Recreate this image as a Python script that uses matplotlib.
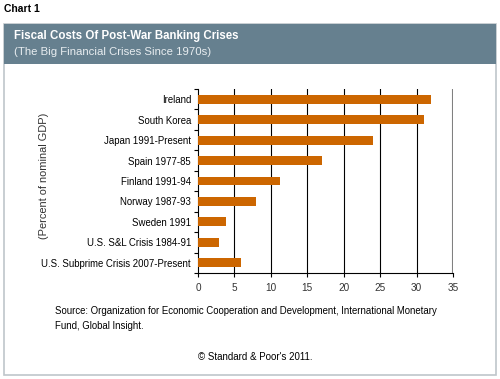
import numpy as np
import matplotlib
matplotlib.use("Agg")
import matplotlib.pyplot as plt
from matplotlib.patches import Rectangle

plt.rcParams['font.family'] = ['Liberation Sans', 'DejaVu Sans']

crises = ["Ireland", "South Korea", "Japan 1991-Present", "Spain 1977-85",
          "Finland 1991-94", "Norway 1987-93", "Sweden 1991",
          "U.S. S&L Crisis 1984-91", "U.S. Subprime Crisis 2007-Present"]
costs = [32, 31, 24, 17, 11.2, 8, 3.9, 2.9, 5.9]
xticks = [0, 5, 10, 15, 20, 25, 30, 35]

fig = plt.figure(figsize=(5, 3.79), dpi=100)

# panel frame and header bar
fig.patches.append(Rectangle((4/500, 1-375/379), 492/500, 351/379, transform=fig.transFigure,
                             facecolor="white", edgecolor="#BFC6CB", linewidth=1.2, zorder=0))
fig.patches.append(Rectangle((4/500, 1-64/379), 492/500, 40/379, transform=fig.transFigure,
                             facecolor="#66808F", edgecolor="none", zorder=1))

fig.text(4/500, 1-9/379, "Chart 1", fontsize=7.5, fontweight="bold", va="center",
         family=['Liberation Sans Narrow', 'Liberation Sans', 'DejaVu Sans'])
fig.text(14/500, 1-36/379, "Fiscal Costs Of Post-War Banking Crises", color="white",
         fontsize=8.3, fontweight="bold", va="center")
fig.text(14/500, 1-52/379, "(The Big Financial Crises Since 1970s)", color="#E8EDF0",
         fontsize=8.2, va="center")

ax = fig.add_axes([198/500, 1-273/379, 255/500, 184/379])
ax.set_zorder(5)
ax.patch.set_alpha(0)
y = np.arange(len(crises))
ax.barh(y, costs, height=0.43, color="#CC6600", zorder=3)
ax.set_ylim(len(crises) - 0.5, -0.5)
ax.set_xlim(0, 35)

for v in xticks[1:-1]:
    ax.axvline(v, color="black", linewidth=0.8, zorder=1)
ax.axvline(35, color="#808080", linewidth=1.5, zorder=1)

ax.set_yticks(y)
ax.set_yticklabels(crises, fontsize=6.9)
ax.tick_params(axis="y", which="major", length=0, pad=5)
ax.set_yticks(np.arange(len(crises) + 1) - 0.5, minor=True)
ax.tick_params(axis="y", which="minor", length=3, width=0.8, direction="out")
ax.set_xticks(xticks)
ax.set_xticklabels([str(t) for t in xticks], fontsize=7.2, color="#333333")
ax.tick_params(axis="x", length=3, width=0.8, direction="out", pad=4)

for s in ["top", "right"]:
    ax.spines[s].set_visible(False)
ax.spines["left"].set_linewidth(0.8)
ax.spines["bottom"].set_linewidth(0.8)

fig.text(44/500, 1-176/379, "(Percent of nominal GDP)", rotation=90, fontsize=7.9,
         va="center", ha="center", color="#333333")

fig.text(55/500, 1-311/379, "Source: Organization for Economic Cooperation and Development, International Monetary",
         fontsize=6.9, va="center")
fig.text(55/500, 1-326/379, "Fund, Global Insight.", fontsize=6.9, va="center")
fig.text(255/500, 1-357/379, "\u00a9 Standard & Poor's 2011.", fontsize=7, va="center", ha="center")

fig.savefig("out.png", dpi=100)
